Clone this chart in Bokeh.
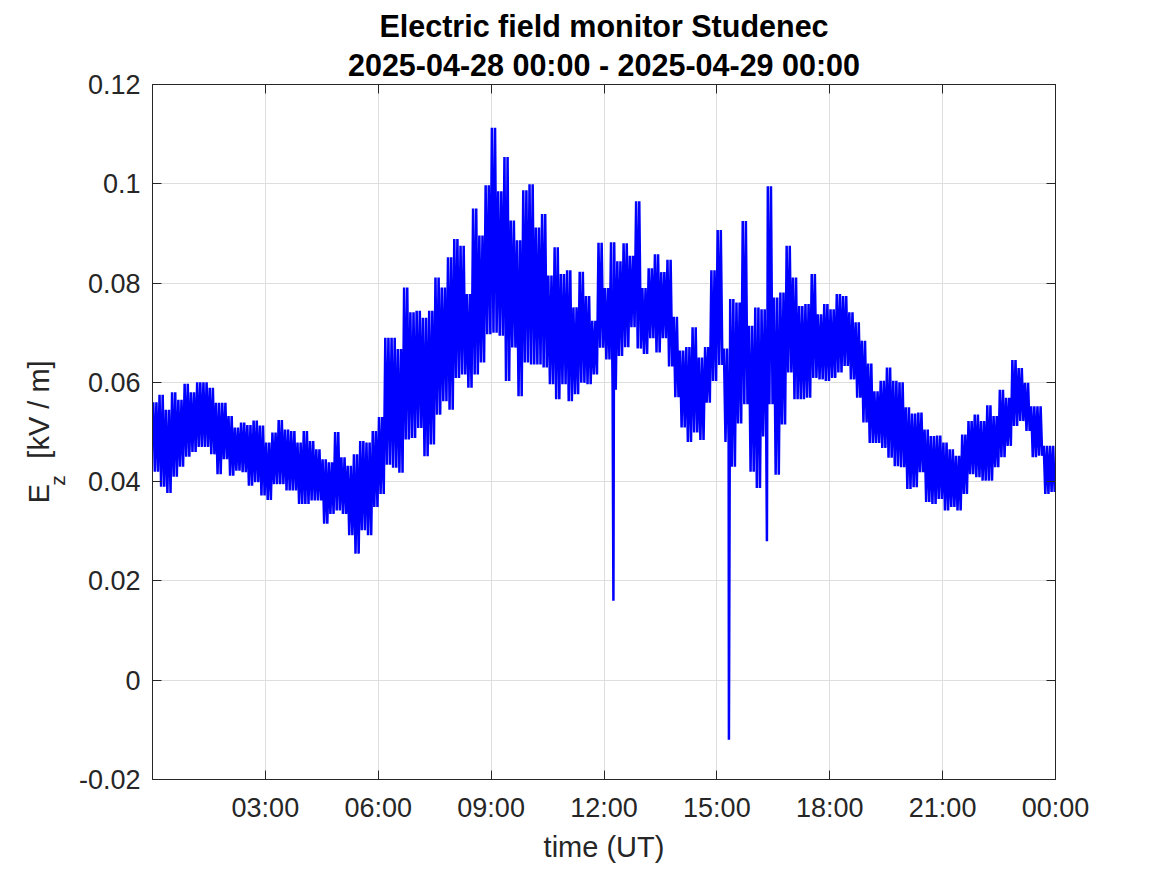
import math
from bokeh.plotting import figure
from bokeh.layouts import row
from bokeh.models import LinearAxis, FixedTicker, Range1d, Title, ColumnDataSource
from bokeh.embed import file_html
from bokeh.resources import INLINE

# ---- data (10-minute bins) ----
bin_hours = [i / 6 for i in range(144)]  # bin starts 00:00 ... 23:50

e_high = [
    0.0560, 0.0575, 0.0545, 0.0580, 0.0565, 0.0597,
    0.0580, 0.0600, 0.0600, 0.0589, 0.0559, 0.0559,
    0.0532, 0.0509, 0.0519, 0.0514, 0.0523, 0.0513,
    0.0479, 0.0499, 0.0524, 0.0505, 0.0502, 0.0479,
    0.0502, 0.0482, 0.0465, 0.0445, 0.0439, 0.0500,
    0.0449, 0.0432, 0.0455, 0.0482, 0.0479, 0.0502,
    0.0530, 0.0690, 0.0690, 0.0667, 0.0791, 0.0741,
    0.0744, 0.0730, 0.0744, 0.0811, 0.0791, 0.0852,
    0.0889, 0.0875, 0.0778, 0.0950, 0.0896, 0.0997,
    0.1113, 0.0985, 0.1054, 0.0926, 0.0886, 0.0987,
    0.0999, 0.0912, 0.0939, 0.0815, 0.0872, 0.0818,
    0.0826, 0.0751, 0.0823, 0.0774, 0.0724, 0.0881,
    0.0790, 0.0882, 0.0844, 0.0880, 0.0855, 0.0965,
    0.0790, 0.0830, 0.0858, 0.0822, 0.0847, 0.0732,
    0.0664, 0.0671, 0.0711, 0.0650, 0.0671, 0.0826,
    0.0907, 0.0668, 0.0768, 0.0761, 0.0925, 0.0714,
    0.0751, 0.0747, 0.0995, 0.0771, 0.0781, 0.0875,
    0.0811, 0.0754, 0.0758, 0.0818, 0.0737, 0.0758,
    0.0747, 0.0778, 0.0774, 0.0741, 0.0721, 0.0684,
    0.0638, 0.0582, 0.0603, 0.0630, 0.0603, 0.0600,
    0.0550, 0.0537, 0.0539, 0.0505, 0.0492, 0.0493,
    0.0479, 0.0465, 0.0452, 0.0495, 0.0522, 0.0535,
    0.0522, 0.0554, 0.0532, 0.0585, 0.0569, 0.0645,
    0.0629, 0.0599, 0.0552, 0.0552, 0.0472, 0.0472,
]

e_low = [
    0.0420, 0.0390, 0.0377, 0.0410, 0.0430, 0.0450,
    0.0460, 0.0470, 0.0470, 0.0455, 0.0415, 0.0445,
    0.0412, 0.0422, 0.0419, 0.0392, 0.0399, 0.0372,
    0.0363, 0.0395, 0.0395, 0.0382, 0.0382, 0.0355,
    0.0355, 0.0362, 0.0362, 0.0315, 0.0335, 0.0342,
    0.0335, 0.0292, 0.0255, 0.0302, 0.0292, 0.0349,
    0.0375, 0.0434, 0.0428, 0.0418, 0.0485, 0.0488,
    0.0508, 0.0451, 0.0475, 0.0535, 0.0562, 0.0545,
    0.0609, 0.0616, 0.0589, 0.0616, 0.0640, 0.0697,
    0.0700, 0.0694, 0.0603, 0.0670, 0.0572, 0.0640,
    0.0636, 0.0636, 0.0630, 0.0596, 0.0566, 0.0596,
    0.0562, 0.0576, 0.0599, 0.0596, 0.0616, 0.0670,
    0.0646, 0.0585, 0.0653, 0.0671, 0.0711, 0.0668,
    0.0657, 0.0689, 0.0660, 0.0689, 0.0632, 0.0570,
    0.0509, 0.0480, 0.0499, 0.0484, 0.0559, 0.0603,
    0.0635, 0.0480, 0.0430, 0.0517, 0.0556, 0.0420,
    0.0387, 0.0491, 0.0556, 0.0414, 0.0515, 0.0620,
    0.0566, 0.0566, 0.0569, 0.0609, 0.0606, 0.0603,
    0.0609, 0.0620, 0.0633, 0.0606, 0.0569, 0.0519,
    0.0478, 0.0478, 0.0468, 0.0448, 0.0431, 0.0429,
    0.0385, 0.0389, 0.0419, 0.0359, 0.0355, 0.0365,
    0.0342, 0.0349, 0.0342, 0.0375, 0.0415, 0.0409,
    0.0402, 0.0402, 0.0429, 0.0449, 0.0472, 0.0512,
    0.0522, 0.0502, 0.0449, 0.0452, 0.0375, 0.0379,
]

spike_hours = [12.25, 15.32, 16.33]
spike_values = [0.016, -0.012, 0.028]

x_tick_hours = [3, 6, 9, 12, 15, 18, 21, 24]
x_tick_labels = ["03:00", "06:00", "09:00", "12:00", "15:00", "18:00", "21:00", "00:00"]
y_tick_values = [-0.02, 0, 0.02, 0.04, 0.06, 0.08, 0.1, 0.12]
y_tick_labels = ["-0.02", "0", "0.02", "0.04", "0.06", "0.08", "0.1", "0.12"]

title_line1 = "Electric field monitor Studenec"
title_line2 = "2025-04-28 00:00 - 2025-04-29 00:00"
x_label = "time (UT)"
y_label_parts = ["E", "z", "[kV / m]"]

# ---- build the trace: alternate each bin's max and min samples, plus spikes ----
bin_w = 1 / 6
pts = []
for t, hi, lo in zip(bin_hours, e_high, e_low):
    pts.append((t + bin_w * 0.125, hi))
    pts.append((t + bin_w * 0.375, lo))
    pts.append((t + bin_w * 0.625, hi))
    pts.append((t + bin_w * 0.875, lo))
for t, v in zip(spike_hours, spike_values):
    pts.append((t, v))
pts.sort(key=lambda q: q[0])
src = ColumnDataSource(dict(t=[q[0] for q in pts], ez=[q[1] for q in pts]))

FONT = "Liberation Sans"
DARK = "#262626"
LEFT_W = 74
FIG_H = 866
FRAME_TOP = 84
FRAME_H = 695

p = figure(frame_width=903, frame_height=FRAME_H,
           min_border_left=152 - LEFT_W, min_border_right=96,
           min_border_top=FRAME_TOP, min_border_bottom=FIG_H - FRAME_TOP - FRAME_H,
           x_range=Range1d(0, 24), y_range=Range1d(-0.02, 0.12),
           output_backend="svg", toolbar_location=None,
           background_fill_color="white", border_fill_color="white")

p.line("t", "ez", source=src, line_color="#0000ff", line_width=2.5)

bottom_ax = p.below[0]
left_ax = p.left[0]

# mirrored axes (ticks only)
top_ax = LinearAxis()
right_ax = LinearAxis()
p.add_layout(top_ax, "above")
p.add_layout(right_ax, "right")

bottom_ax.ticker = FixedTicker(ticks=x_tick_hours)
top_ax.ticker = FixedTicker(ticks=x_tick_hours)
left_ax.ticker = FixedTicker(ticks=y_tick_values)
right_ax.ticker = FixedTicker(ticks=y_tick_values)
bottom_ax.major_label_overrides = {k: v for k, v in zip(x_tick_hours, x_tick_labels)}
left_ax.major_label_overrides = {k: v for k, v in zip(y_tick_values, y_tick_labels)}

for ax in (bottom_ax, left_ax, top_ax, right_ax):
    ax.major_tick_in = 9
    ax.major_tick_out = 0
    ax.minor_tick_in = 0
    ax.minor_tick_out = 0
    ax.axis_line_color = DARK
    ax.major_tick_line_color = DARK
    ax.major_label_text_font = FONT
    ax.major_label_text_font_size = "27px"
    ax.major_label_text_color = DARK

for ax in (top_ax, right_ax):
    ax.major_label_text_color = None
    ax.major_label_text_font_size = "1px"
    ax.major_label_standoff = 0

bottom_ax.major_label_standoff = 13
left_ax.major_label_standoff = 12

bottom_ax.axis_label = x_label
bottom_ax.axis_label_text_font = FONT
bottom_ax.axis_label_text_font_size = "29px"
bottom_ax.axis_label_text_font_style = "normal"
bottom_ax.axis_label_text_color = DARK
bottom_ax.axis_label_standoff = 5

p.xgrid.grid_line_color = "#dedede"
p.ygrid.grid_line_color = "#dedede"
p.outline_line_color = DARK
p.outline_line_width = 1

# two-line title
p.add_layout(Title(text=title_line2, align="center", text_font=FONT,
                   text_font_size="30.5px", text_font_style="bold",
                   text_color="black", standoff=6), "above")
p.title.text = title_line1
p.title.align = "center"
p.title.text_font = FONT
p.title.text_font_size = "30.5px"
p.title.text_font_style = "bold"
p.title.text_color = "black"
p.title.standoff = 0

# narrow panel on the left carrying the rotated y label "E_z [kV / m]"
# (its frame is aligned with the main frame by the row layout)
lp = figure(width=LEFT_W, height=FIG_H, x_range=Range1d(0, LEFT_W),
            y_range=Range1d(0, FRAME_H), x_axis_type=None, y_axis_type=None,
            min_border=0, output_backend="svg", toolbar_location=None,
            background_fill_color="white", border_fill_color="white")
lp.outline_line_color = None
lp.xgrid.visible = False
lp.ygrid.visible = False
frame_bottom = FRAME_TOP + FRAME_H
lab_x = [38, 57, 38]
lab_y = [frame_bottom - 493, frame_bottom - 480, frame_bottom - 409]
lab_size = ["29px", "21px", "29px"]
lp.text(x=lab_x, y=lab_y, text=y_label_parts, angle=math.pi / 2,
        text_font_size=lab_size, text_color=DARK, text_align="center",
        text_baseline="middle", text_font={"value": FONT})

layout = row(lp, p, spacing=0)
open("out.html", "w").write(file_html(layout, INLINE))
